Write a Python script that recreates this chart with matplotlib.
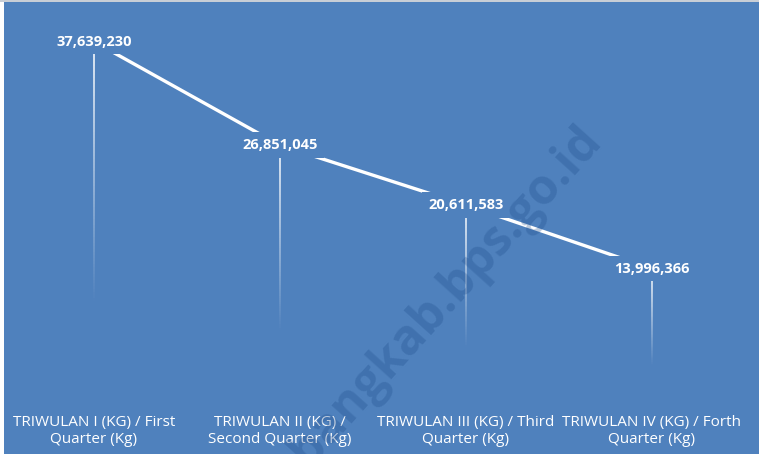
"""
Quarterly production line chart (Kg), Excel-style blue panel.
"""

import numpy as np
import matplotlib

matplotlib.use("Agg")
import matplotlib.pyplot as plt
from matplotlib.collections import LineCollection
from matplotlib.patches import Rectangle

categories = [
    "TRIWULAN I (KG) / First\nQuarter (Kg)",
    "TRIWULAN II (KG) /\nSecond Quarter (Kg)",
    "TRIWULAN III (KG) / Third\nQuarter (Kg)",
    "TRIWULAN IV (KG) / Forth\nQuarter (Kg)",
]
values = [37639230, 26851045, 20611583, 13996366]

BG = "#4F81BD"
W, H = 759, 454

plt.rcParams["font.family"] = ["Open Sans", "DejaVu Sans"]

fig = plt.figure(figsize=(W / 100, H / 100), dpi=100)
fig.patch.set_facecolor(BG)
# thin frame remnants of the screenshot: white strip left, grey line on top
fig.patches.append(Rectangle((0, 0), 4 / W, 1, transform=fig.transFigure,
                             facecolor="white", edgecolor="none", zorder=0))
fig.patches.append(Rectangle((0, 1 - 2 / H), 1, 2 / H, transform=fig.transFigure,
                             facecolor="#C8CED6", edgecolor="none", zorder=0))

ax = fig.add_axes([1 / W, 51 / H, 744 / W, 384 / H])
ax.set_facecolor("none")
ax.set_xlim(-0.5, len(values) - 0.5)
ax.set_ylim(0, 40e6)
ax.axis("off")

x = np.arange(len(values))

# drop lines, white fading out towards the axis
for xi, v in zip(x, values):
    n = 120
    ys = np.linspace(v, 0, n + 1)
    segs = [[(xi, ys[i]), (xi, ys[i + 1])] for i in range(n)]
    t = np.linspace(0, 1, n)
    alphas = np.clip(0.9 * (1 - t / 0.72), 0, 1)
    colors = [(1, 1, 1, a) for a in alphas]
    ax.add_collection(LineCollection(segs, colors=colors, linewidths=1.3, zorder=2))

ax.plot(x, values, color="white", linewidth=2.4, solid_capstyle="butt", zorder=3)

for xi, v in zip(x, values):
    ax.text(xi, v, f"{v:,}", ha="center", va="center", color="white",
            fontsize=10.5, fontweight="bold", zorder=5,
            bbox=dict(boxstyle="square,pad=0.4", facecolor=BG, edgecolor="none"))

for xi, lab in zip(x, categories):
    ax.text(xi, -1.3e6, lab, ha="center", va="top", color="white",
            fontsize=11, linespacing=1.1, zorder=5)

# watermark
fig.text(593 / W, 1 - 133 / H, "rembangkab.bps.go.id", rotation=48,
         rotation_mode="anchor", ha="right", va="center", fontsize=35,
         fontweight="bold", color="#1F4E8C", alpha=0.3, zorder=1)

fig.savefig("out.png", dpi=100, facecolor=fig.get_facecolor())
